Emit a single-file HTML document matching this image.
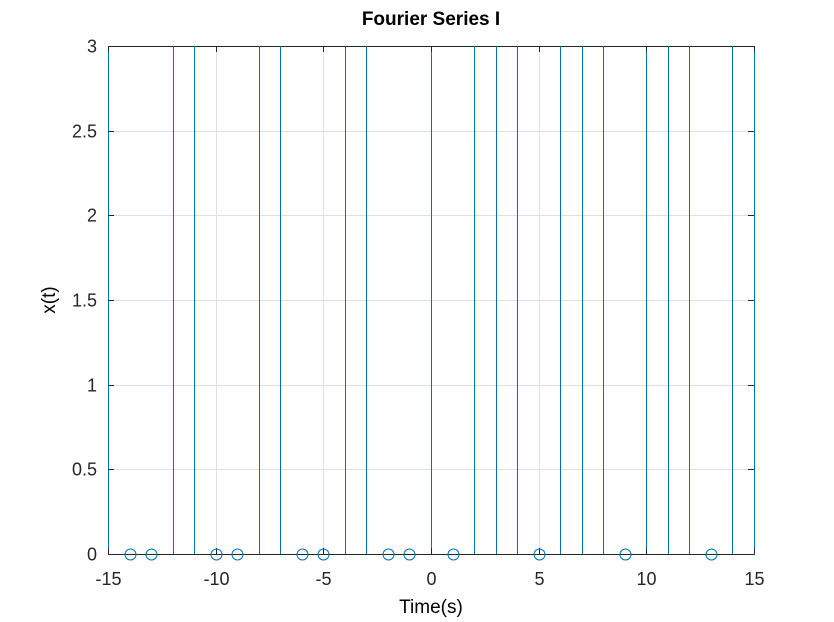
<!DOCTYPE html>
<html><head><meta charset="utf-8"><style>
body{margin:0;background:#fff;}
svg{display:block;font-family:"Liberation Sans",sans-serif;}
</style></head><body>
<svg id="chart" width="834" height="622" viewBox="0 0 834 622">
<rect x="0" y="0" width="834" height="622" fill="#fff"/>
<g id="grid"></g>
<defs><clipPath id="plotclip"><rect x="100" y="46" width="665" height="509"/></clipPath></defs>
<rect x="108.5" y="46.5" width="646" height="508" fill="none" stroke="#262626" stroke-width="1"/>
<g id="stems" clip-path="url(#plotclip)"></g>
<g id="ticks"></g>
<g id="marks"></g>
<text x="431" y="25" text-anchor="middle" font-size="19" font-weight="bold">Fourier Series I</text>
<text x="431" y="613" text-anchor="middle" font-size="19">Time(s)</text>
<text transform="translate(55,300) rotate(-90)" text-anchor="middle" font-size="19">x(t)</text>
</svg>
<script>
const tValues=[-15,-14,-13,-12,-11,-10,-9,-8,-7,-6,-5,-4,-3,-2,-1,0,1,2,3,4,5,6,7,8,9,10,11,12,13,14,15];
const xValues=[10,0,0,10,10,0,0,10,10,0,0,10,10,0,0,10,0,10,10,10,0,10,10,10,0,10,10,10,0,10,10];
const xTicks=[-15,-10,-5,0,5,10,15];
const yTicks=[0,0.5,1,1.5,2,2.5,3];
const X0=108,X1=754,Y0=554,Y1=46;
const sx=v=>Math.round(X0+(v+15)/30*(X1-X0))+0.5;
const sy=v=>Math.round(Y0-(v/3)*(Y0-Y1))+0.5;
const NS="http://www.w3.org/2000/svg";
function mk(tag,attrs,parent){const e=document.createElementNS(NS,tag);for(const k in attrs)e.setAttribute(k,attrs[k]);document.getElementById(parent).appendChild(e);return e;}
xTicks.forEach(t=>{
 const g=mk('line',{x1:sx(t),x2:sx(t),y1:Y1,y2:Y0,stroke:'#e0e0e0','stroke-width':1},'grid');
 
 
 const tk=mk('line',{x1:sx(t),x2:sx(t),y1:Y0,y2:Y0-6,stroke:'#262626'},'ticks');
 
 
 const tk2=mk('line',{x1:sx(t),x2:sx(t),y1:Y1,y2:Y1+6,stroke:'#262626'},'ticks');
 
 
 const lb=mk('text',{x:sx(t),y:585,'text-anchor':'middle','font-size':18,fill:'#262626'},'ticks');
 lb.textContent=t;
 
 
});
yTicks.forEach(t=>{
 const g=mk('line',{x1:X0,x2:X1,y1:sy(t),y2:sy(t),stroke:'#e0e0e0','stroke-width':1},'grid');
 
 
 const tk=mk('line',{x1:X0,x2:X0+6,y1:sy(t),y2:sy(t),stroke:'#262626'},'ticks');
 
 
 const tk2=mk('line',{x1:X1,x2:X1-6,y1:sy(t),y2:sy(t),stroke:'#262626'},'ticks');
 
 
 const lb=mk('text',{x:97,y:sy(t)+6,'text-anchor':'end','font-size':18,fill:'#262626'},'ticks');
 lb.textContent=t;
 
 
});
tValues.forEach((t,i)=>{
 const v=xValues[i];
 if(v!==0){
  const top=sy(v), bot=sy(0);
  const s=mk('rect',{x:sx(t)-0.5,y:top,width:1,height:bot-top,fill:'#0072bd'},'stems');
  
  
 }
});
const bl=mk('line',{x1:X0,x2:X1,y1:sy(0),y2:sy(0),stroke:'#262626'},'marks');


tValues.forEach((t,i)=>{
 const v=xValues[i];
 if(v<=3){
  const c=mk('circle',{cx:sx(t),cy:sy(v),r:5.5,fill:'none',stroke:'#0072bd','stroke-width':1},'marks');
  
  
 }
});
</script>
</body></html>
